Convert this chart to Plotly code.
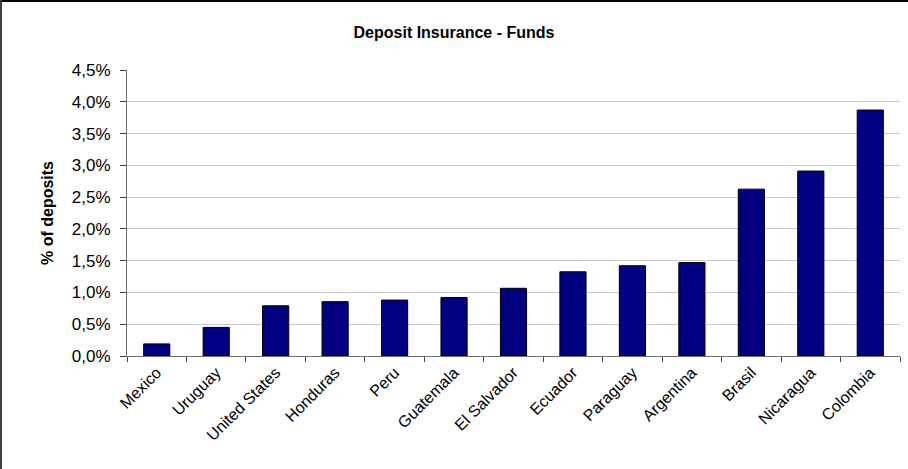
import plotly.graph_objects as go

countries = ["Mexico", "Uruguay", "United States", "Honduras", "Peru", "Guatemala",
             "El Salvador", "Ecuador", "Paraguay", "Argentina", "Brasil", "Nicaragua", "Colombia"]
funds_pct = [0.19, 0.45, 0.79, 0.855, 0.88, 0.92, 1.065, 1.325, 1.42, 1.47, 2.625, 2.91, 3.87]
y_ticks = [0.0, 0.5, 1.0, 1.5, 2.0, 2.5, 3.0, 3.5, 4.0, 4.5]

W, H = 908, 469
L, R, T, B = 127, 8, 70, 113
pw, ph = W - L - R, H - T - B

fig = go.Figure(go.Bar(
    x=countries,
    y=[v / 100 for v in funds_pct],
    marker=dict(color="#000080", line=dict(color="#000000", width=1)),
    width=0.44,
))

fig.update_layout(
    width=W, height=H,
    margin=dict(l=L, r=R, t=T, b=B, autoexpand=False),
    paper_bgcolor="white", plot_bgcolor="white",
    separators=",.",
    showlegend=False,
    font=dict(family="Liberation Sans, Arial, sans-serif", color="#000000"),
    title=dict(text="<b>Deposit Insurance - Funds</b>", x=0.5, xanchor="center",
               y=1 - 32 / H, yanchor="middle", automargin=False,
               font=dict(size=16, family="Liberation Sans, Arial, sans-serif")),
    xaxis=dict(
        type="category", tickson="boundaries", ticks="outside", ticklen=5,
        tickcolor="#404040", showline=True, linecolor="#707070", linewidth=1,
        tickangle=-45, tickfont=dict(size=16), showgrid=False, automargin=False,
    ),
    yaxis=dict(
        range=[0, 0.045], tickvals=[v / 100 for v in y_ticks], tickformat=".1%",
        ticks="outside", ticklen=6, tickcolor="#404040", ticklabelstandoff=6,
        showline=True, linecolor="#707070", linewidth=1,
        showgrid=True, gridcolor="#c8c8c8", gridwidth=1,
        tickfont=dict(size=17), zeroline=False, automargin=False,
        title=dict(text="<b>% of deposits</b>", font=dict(size=16), standoff=14),
    ),
    shapes=[
        dict(type="line", xref="paper", yref="paper",
             x0=(0 - L) / pw, x1=(W - L) / pw, y0=(H - B - 1) / ph, y1=(H - B - 1) / ph,
             line=dict(color="#000000", width=2)),
        dict(type="line", xref="paper", yref="paper",
             x0=(1 - L) / pw, x1=(1 - L) / pw, y0=(H - B) / ph, y1=(H - B - H) / ph,
             line=dict(color="#404040", width=2)),
    ],
)

fig.write_html("out.html", config={"displayModeBar": False},
               post_script="document.body.style.margin='0';document.body.style.overflow='hidden';")
